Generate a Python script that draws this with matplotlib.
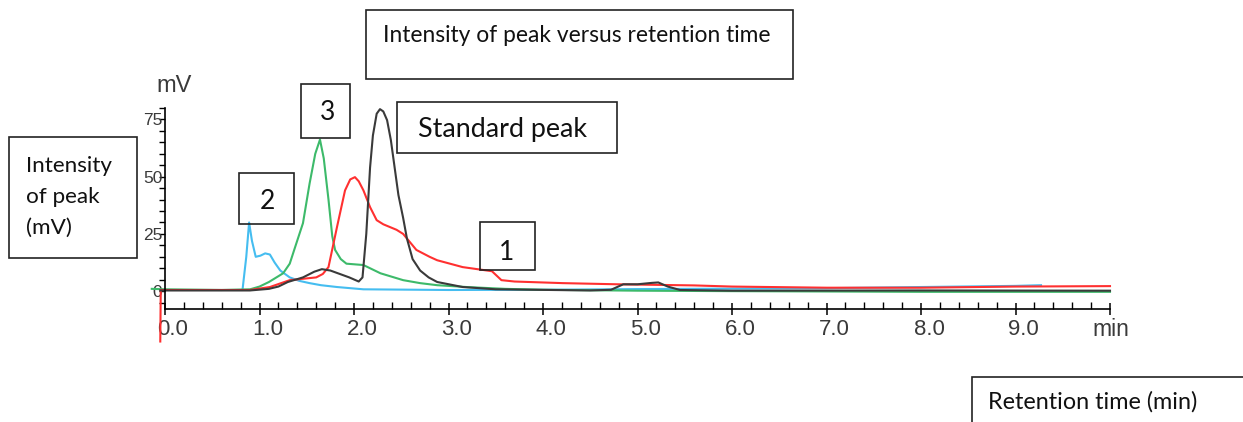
import matplotlib
matplotlib.use("Agg")
import matplotlib.pyplot as plt
import matplotlib.transforms as mtransforms
from matplotlib.patches import Rectangle
from matplotlib.ticker import MultipleLocator

# retention time (min) and intensity (mV)
blue_t = [-0.02, 0.3, 0.6, 0.82, 0.86, 0.89, 0.92, 0.96, 1.01, 1.06, 1.11, 1.16, 1.22,
          1.32, 1.42, 1.53, 1.65, 1.82, 2.1, 3.0, 4.0, 5.0, 6.0, 7.0, 8.0, 9.0, 9.27]
blue_mv = [0.5, 0.5, 0.5, 0.5, 15, 30, 22, 15, 15.5, 16.5, 16, 12.5, 9,
           6, 4.5, 3.5, 2.6, 1.8, 0.8, 0.5, 0.6, 0.9, 1.1, 1.3, 1.8, 2.3, 2.6]

green_t = [-0.14, 0.0, 0.6, 0.9, 1.0, 1.1, 1.25, 1.32, 1.375, 1.46, 1.53, 1.59, 1.64,
           1.68, 1.73, 1.77, 1.8, 1.86, 1.92, 2.1, 2.28, 2.52, 2.7, 2.88, 3.19, 3.6,
           4.0, 5.0, 6.0, 8.0, 10.0]
green_mv = [1.0, 0.8, 0.5, 0.8, 2, 4, 7.8, 12, 19, 29.7, 47, 60, 66.2,
            58, 40, 24, 18, 14, 12, 11.4, 7.8, 4.8, 3.5, 2.6, 1.8, 1.0,
            0.6, 0.2, 0.0, -0.3, -0.3]

black_t = [-0.05, 0.0, 0.9, 1.1, 1.2, 1.3, 1.46, 1.58, 1.66, 1.75, 1.85, 1.95,
           2.05, 2.09, 2.13, 2.17, 2.2, 2.24, 2.275, 2.31, 2.35, 2.39, 2.43, 2.47,
           2.52, 2.56, 2.62, 2.70, 2.79, 2.88, 3.15, 3.5, 4.5, 4.72, 4.85, 5.0,
           5.15, 5.22, 5.32, 5.45, 6.0, 8.0, 10.0]
black_mv = [0.3, 0.3, 0.3, 1, 2, 4, 6, 8.5, 9.6, 9, 7.5, 6,
            4.2, 6, 25, 54, 68, 77.5, 79.5, 78.5, 74.7, 66, 54, 42,
            32, 23, 14, 9, 6, 4, 1.8, 0.8, 0.3, 0.6, 3, 3,
            3.6, 3.8, 2, 0.5, 0.2, 0.3, 0.2]

red_t = [-0.05, -0.045, 0.3, 0.9, 1.11, 1.32, 1.6, 1.67, 1.73, 1.82, 1.905, 1.96, 2.01,
         2.05, 2.1, 2.17, 2.24, 2.31, 2.38, 2.45, 2.52, 2.66, 2.8, 2.88, 3.15, 3.46,
         3.56, 3.7, 4.21, 4.78, 5.6, 6.0, 7.0, 8.0, 9.0, 10.0]
red_mv = [-22, 0.5, 0.5, 0.5, 1.8, 4.8, 6, 7.5, 10.5, 28, 44, 48.8, 49.8,
          48, 44, 36.7, 31, 29.2, 28, 26.8, 25, 18, 15, 13.5, 10.5, 8.7,
          4.8, 4.2, 3.5, 3.0, 2.5, 2.0, 1.5, 1.5, 2.0, 2.2]

x_ticks = [0, 1, 2, 3, 4, 5, 6, 7, 8, 9]
x_ticklabels = ["0.0", "1.0", "2.0", "3.0", "4.0", "5.0", "6.0", "7.0", "8.0", "9.0"]
y_ticks = [0, 25, 50, 75]

W, H = 1243, 422
fig = plt.figure(figsize=(W / 100, H / 100), dpi=100)
ax = fig.add_axes([165 / W, 1 - 309 / H, (1110 - 165) / W, (309 - 108) / H])

ax.plot(blue_t, blue_mv, color="#45bdf0", lw=1.5, clip_on=False)
ax.plot(green_t, green_mv, color="#3dba6a", lw=1.5, clip_on=False)
ax.plot(red_t, red_mv, color="#ff3030", lw=1.5, clip_on=False)
ax.plot(black_t, black_mv, color="#3a3a3a", lw=1.5, clip_on=False)

ax.set_xlim(0, 10)
ax.set_ylim(-7.8, 80)
ax.spines["top"].set_visible(False)
ax.spines["right"].set_visible(False)
ax.spines["left"].set_linewidth(1.2)
ax.spines["bottom"].set_linewidth(1.2)

ax.set_xticks(x_ticks + [10])
ax.set_xticklabels(x_ticklabels + [""], fontsize=16, family="Liberation Sans", color="#3a3a3a")
ax.xaxis.set_minor_locator(MultipleLocator(0.2))
ax.tick_params(axis="x", which="major", direction="inout", length=9, width=1.1, pad=3)
ax.tick_params(axis="x", which="minor", direction="in", length=5, width=1.0)
shift = mtransforms.ScaledTranslation(8 / 100, 0, fig.dpi_scale_trans)
for lab in ax.get_xticklabels():
    lab.set_transform(lab.get_transform() + shift)

ax.set_yticks(y_ticks)
ax.set_yticklabels([str(v) for v in y_ticks], fontsize=12.5, family="Liberation Sans", color="#3a3a3a")
ax.yaxis.set_minor_locator(MultipleLocator(5))
ax.tick_params(axis="y", which="both", direction="out", length=4, width=1.0, pad=-2)

fig.text(156 / W, 1 - 86 / H, "mV", fontsize=17, family="Liberation Sans", color="#3a3a3a",
         va="center", ha="left")
fig.text(1092 / W, 1 - 330 / H, "min", fontsize=16.5, family="Liberation Sans", color="#3a3a3a",
         va="center", ha="left")


def box(x0, y0, x1, y1):
    fig.patches.append(Rectangle((x0 / W, 1 - y1 / H), (x1 - x0) / W, (y1 - y0) / H,
                                 transform=fig.transFigure, fill=False, ec="#222222", lw=1.2))


box_font = dict(family="Lato", color="#111111")
box(366, 10, 793, 79)
fig.text(383 / W, 1 - 35 / H, "Intensity of peak versus retention time", fontsize=16.4,
         va="center", ha="left", **box_font)
box(301, 84, 350, 138)
fig.text(328 / W, 1 - 113 / H, "3", fontsize=19, va="center", ha="center", **box_font)
box(397, 102, 617, 153)
fig.text(418 / W, 1 - 130 / H, "Standard peak", fontsize=19.4, va="center", ha="left", **box_font)
box(239, 173, 294, 224)
fig.text(267 / W, 1 - 202 / H, "2", fontsize=19, va="center", ha="center", **box_font)
box(480, 222, 535, 270)
fig.text(507 / W, 1 - 252 / H, "1", fontsize=19, va="center", ha="center", **box_font)
box(9, 137, 137, 258)
fig.text(26 / W, 1 - 197 / H, "Intensity\nof peak\n(mV)", fontsize=16.2, va="center",
         ha="left", linespacing=1.68, **box_font)
box(972, 377, 1250, 430)
fig.text(988 / W, 1 - 402 / H, "Retention time (min)", fontsize=16.8, va="center", ha="left",
         **box_font)

fig.savefig("out.png", dpi=100)
